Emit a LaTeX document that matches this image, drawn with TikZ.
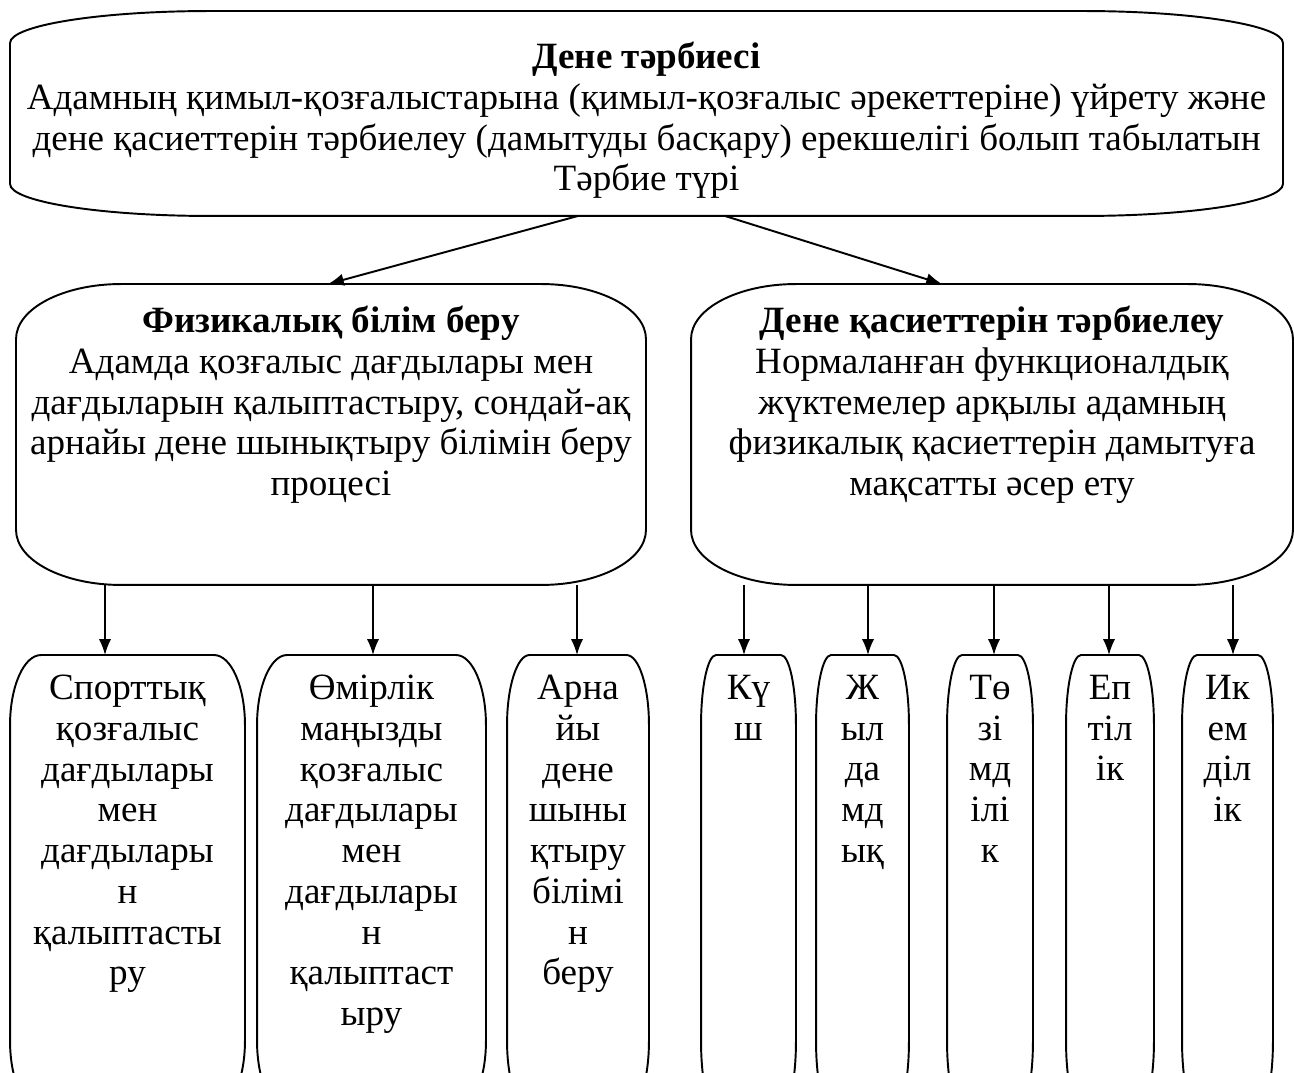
\documentclass[tikz,border=0pt]{standalone}
\usepackage{fontspec}
\setmainfont{Liberation Serif}
\usetikzlibrary{positioning}
\usetikzlibrary{calc}
\usetikzlibrary{arrows.meta}
\tikzset{every picture/.style={line width=1.1pt},>={Latex[length=9pt,width=7pt]},
  txt/.style={align=center,inner sep=0pt,font=\fontsize{21.1}{23.2}\selectfont},
  frame/.style={inner sep=0pt,draw=none}}
% rounded box with elliptic corners round a named node
\newcommand{\ovbox}[3]{%
\draw ([xshift=#2]#1.north west) -- ([xshift=-#2]#1.north east)
  arc[start angle=90,end angle=0,x radius=#2,y radius=#3]
  -- ([yshift=#3]#1.south east)
  arc[start angle=0,end angle=-90,x radius=#2,y radius=#3]
  -- ([xshift=#2]#1.south west)
  arc[start angle=270,end angle=180,x radius=#2,y radius=#3]
  -- ([yshift=-#3]#1.north west)
  arc[start angle=180,end angle=90,x radius=#2,y radius=#3] -- cycle;}

\begin{document}
\begin{tikzpicture}
\useasboundingbox (0,0) rectangle (25.88,-21.46);
\clip (0,0) rectangle (25.88,-21.46);

\node (top) at (12.93,-2.27) [frame,minimum width=25.42cm,minimum height=4.06cm] {};
\ovbox{top}{4.0cm}{0.64cm}
\node (toptxt) [txt,below=0.6cm of top.north] {\textbf{Дене тәрбиесі}\\
Адамның қимыл-қозғалыстарына (қимыл-қозғалыс әрекеттеріне) үйрету және\\
дене қасиеттерін тәрбиелеу (дамытуды басқару) ерекшелігі болып табылатын\\
Тәрбие түрі};

\node (phys) at (6.62,-8.69) [frame,minimum width=12.56cm,minimum height=5.98cm] {};
\ovbox{phys}{2.1cm}{1.1cm}
\node (physt) [txt,below=0.42cm of phys.north] {\textbf{Физикалық білім беру}\\
Адамда қозғалыс дағдылары мен\\
дағдыларын қалыптастыру, сондай-ақ\\
арнайы дене шынықтыру білімін беру\\
процесі};

\node (qual) at (19.84,-8.69) [frame,minimum width=12.0cm,minimum height=5.98cm] {};
\ovbox{qual}{2.1cm}{1.1cm}
\node (qualt) [txt,below=0.42cm of qual.north] {\textbf{Дене қасиеттерін тәрбиелеу}\\
Нормаланған функционалдық\\
жүктемелер арқылы адамның\\
физикалық қасиеттерін дамытуға\\
мақсатты әсер ету};

\draw[->] ([xshift=-1.37cm]top.south) -- ([xshift=-0.06cm]phys.north);
\draw[->] ([xshift=1.57cm]top.south) -- ([xshift=-1.0cm]qual.north);

\foreach \n/\x/\w/\r/\t in {
  b1/2.55/4.66/0.62/{Спорттық\\қозғалыс\\дағдылары\\мен\\дағдылары\\н\\қалыптасты\\ру},
  b2/7.43/4.54/0.6/{Өмірлік\\маңызды\\қозғалыс\\дағдылары\\мен\\дағдылары\\н\\қалыптаст\\ыру},
  b3/11.56/2.80/0.45/{Арна\\йы\\дене\\шыны\\қтыру\\білімі\\н\\беру},
  b4/14.97/1.86/0.3/{Кү\\ш},
  b5/17.25/1.82/0.3/{Ж\\ыл\\да\\мд\\ық},
  b6/19.80/1.68/0.3/{Тө\\зі\\мд\\ілі\\к},
  b7/22.20/1.72/0.3/{Еп\\тіл\\ік},
  b8/24.55/1.78/0.3/{Ик\\ем\\діл\\ік}} {
\node (\n) at (\x,-17.66) [frame,minimum width=\w cm,minimum height=9.08cm] {};
\ovbox{\n}{\r cm}{1.4cm}
\node (t\n) [txt,below=0.38cm of \n.north] {\t};
}

\foreach \n/\d in {b1/-0.45,b2/0.03,b3/-0.02}
\draw[->] ($(\n.north |- phys.south)+(\d,0)$) -- ($(\n.north)+(\d,0)$);
\foreach \n/\d in {b4/-0.09,b5/0.11,b6/0.08,b7/-0.02,b8/0.11}
\draw[->] ($(\n.north |- qual.south)+(\d,0)$) -- ($(\n.north)+(\d,0)$);

\end{tikzpicture}
\end{document}
